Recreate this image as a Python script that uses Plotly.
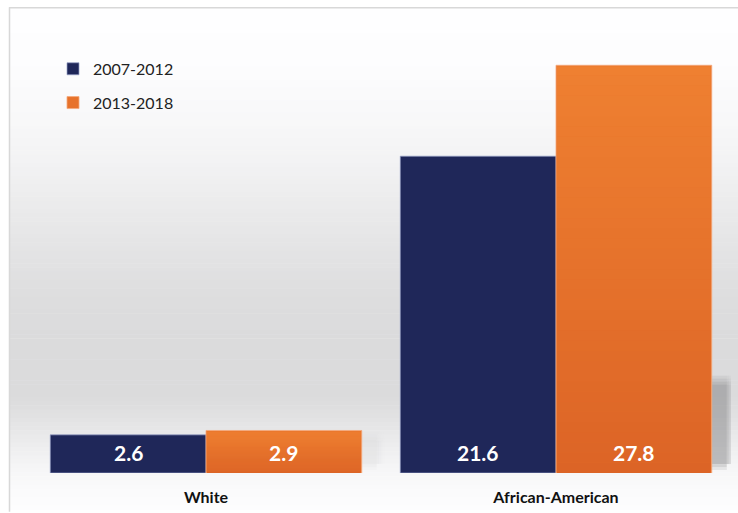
import plotly.graph_objects as go

# Rates by group and period
categories = ["White", "African-American"]
periods = ["2007-2012", "2013-2018"]
values_2007_2012 = [2.6, 21.6]
values_2013_2018 = [2.9, 27.8]

W, H = 738, 513
M_L, M_R, M_T, M_B = 31, 7, 33, 37
PW, PH = W - M_L - M_R, H - M_T - M_B
BARGAP = 0.11
Y_MAX = 30
PX_X = PW / 2.0          # pixels per category unit
PX_Y = PH / Y_MAX        # pixels per value unit


def px_x(p):
    return (p - M_L) / PW


def px_y(p):
    return (H - M_B - p) / PH


def mix(c1, c2, t):
    return tuple(int(round(a + (b - a) * t)) for a, b in zip(c1, c2))


fig = go.Figure()
series = [
    (periods[0], values_2007_2012, "#1f2759", "rgba(150,160,200,0.7)"),
    (periods[1], values_2013_2018, "#e7722b", "rgba(245,170,125,0.8)"),
]
for i, (name, vals, color, edge) in enumerate(series):
    fig.add_trace(go.Bar(
        name=name, x=categories, y=vals, legendgroup=name,
        marker=dict(color=color, line=dict(color=edge, width=1)),
        hoverinfo="skip",
    ))

half = (1 - BARGAP) / 4   # half-width of one bar in category units

# value labels near the base of each bar
annotations = []
for i, (name, vals, _, _) in enumerate(series):
    off = -half if i == 0 else half
    for j, v in enumerate(vals):
        annotations.append(dict(
            x=j + off, y=0, xref="x", yref="y", text=f"{v:.1f}",
            showarrow=False, yanchor="middle", yshift=21,
            font=dict(family="Lato", size=21, color="white", weight="bold"),
        ))

# soft vertical background gradient (light at top and bottom, grey in the middle)
stops = [(8, 254), (60, 253), (120, 248), (160, 243), (200, 236), (250, 228),
         (300, 221), (340, 219), (400, 219), (420, 226), (445, 236), (470, 245),
         (490, 250), (513, 253)]
shapes = []
n = 120
top, bot = 8, 513
for k in range(n):
    y0 = top + (bot - top) * k / n
    y1 = top + (bot - top) * (k + 1) / n
    ym = (y0 + y1) / 2
    for (a, ga), (b, gb) in zip(stops[:-1], stops[1:]):
        if a <= ym <= b:
            g = ga + (gb - ga) * (ym - a) / (b - a)
            break
    g = int(round(g))
    shapes.append(dict(
        type="rect", xref="paper", yref="paper", layer="below",
        x0=px_x(10), x1=px_x(W + 2), y0=px_y(y1 + 0.5), y1=px_y(y0),
        fillcolor=f"rgb({g},{g},{min(255, g + 1)})", line=dict(width=0),
    ))
# frame lines
shapes.append(dict(type="line", xref="paper", yref="paper", layer="below",
                   x0=px_x(9), x1=px_x(W + 2), y0=px_y(7.5), y1=px_y(7.5),
                   line=dict(color="#d8d8d8", width=1.5)))
shapes.append(dict(type="line", xref="paper", yref="paper", layer="below",
                   x0=px_x(9.5), x1=px_x(9.5), y0=px_y(7), y1=px_y(H + 2),
                   line=dict(color="#d8d8d8", width=1.5)))

# drop shadow to the right of each group's second bar
for j, v in enumerate(values_2013_2018):
    right = j + 2 * half
    h_px = v * PX_Y
    strength = min(1.0, h_px / 90.0) ** 2.5
    top_px = min(h_px - 1, 98)
    bot_px = 9
    # horizontal columns: solid core then soft edge
    cols = [(0, 15, 1.0), (15, 17, 0.75), (17, 19, 0.5), (19, 21, 0.28), (21, 23, 0.12)]
    # vertical slices: soft top edge
    rows = [(bot_px, top_px - 9, 1.0), (top_px - 9, top_px - 6, 0.75),
            (top_px - 6, top_px - 3, 0.5), (top_px - 3, top_px, 0.25)]
    for cx0, cx1, ca in cols:
        for ry0, ry1, ra in rows:
            if ry1 <= ry0:
                continue
            a = 0.42 * ca * ra * strength
            shapes.append(dict(
                type="rect", xref="x", yref="y", layer="below",
                x0=right + cx0 / PX_X, x1=right + cx1 / PX_X,
                y0=ry0 / PX_Y, y1=ry1 / PX_Y,
                fillcolor=f"rgba(110,110,112,{a:.3f})", line=dict(width=0),
            ))
    # soft bottom edge
    for k, (by0, by1) in enumerate([(6, 9), (3, 6)]):
        shapes.append(dict(
            type="rect", xref="x", yref="y", layer="below",
            x0=right, x1=right + 15 / PX_X, y0=by0 / PX_Y, y1=by1 / PX_Y,
            fillcolor=f"rgba(110,110,112,{0.42 * (0.6 - 0.3 * k) * strength:.3f})",
            line=dict(width=0),
        ))

# vertical shading on the second series' bars (lighter at the top)
top_col, bot_col = (239, 128, 49), (220, 100, 38)
inset = 1.0 / PX_X
for j, v in enumerate(values_2013_2018):
    x0 = j + inset
    x1 = j + 2 * half - inset
    steps = 40
    for k in range(steps):
        ya = v * k / steps
        yb = v * (k + 1) / steps
        c = mix(bot_col, top_col, (k + 0.5) / steps)
        shapes.append(dict(
            type="rect", xref="x", yref="y", layer="above",
            x0=x0, x1=x1, y0=ya, y1=min(v - 1.0 / PX_Y, yb + 0.02),
            fillcolor=f"rgb{c}", line=dict(width=0),
        ))

fig.update_layout(
    width=W, height=H,
    margin=dict(l=M_L, r=M_R, t=M_T, b=M_B),
    paper_bgcolor="white", plot_bgcolor="rgba(0,0,0,0)",
    barmode="group", bargap=BARGAP, bargroupgap=0,
    showlegend=True,
    legend=dict(
        x=px_x(53), y=px_y(52), xanchor="left", yanchor="top",
        bgcolor="rgba(0,0,0,0)", traceorder="grouped", tracegroupgap=10,
        font=dict(family="Lato", size=16, color="#222"),
    ),
    xaxis=dict(
        showgrid=False, zeroline=False, showline=False, ticks="",
        tickfont=dict(family="Lato", size=16, color="#111", weight="bold"),
        ticklabelstandoff=13, range=[-0.5, 1.5],
    ),
    yaxis=dict(
        range=[0, Y_MAX], showgrid=False, zeroline=False, showline=False,
        showticklabels=False, ticks="",
    ),
    shapes=shapes,
    annotations=annotations,
)

fig.write_html("out.html")
